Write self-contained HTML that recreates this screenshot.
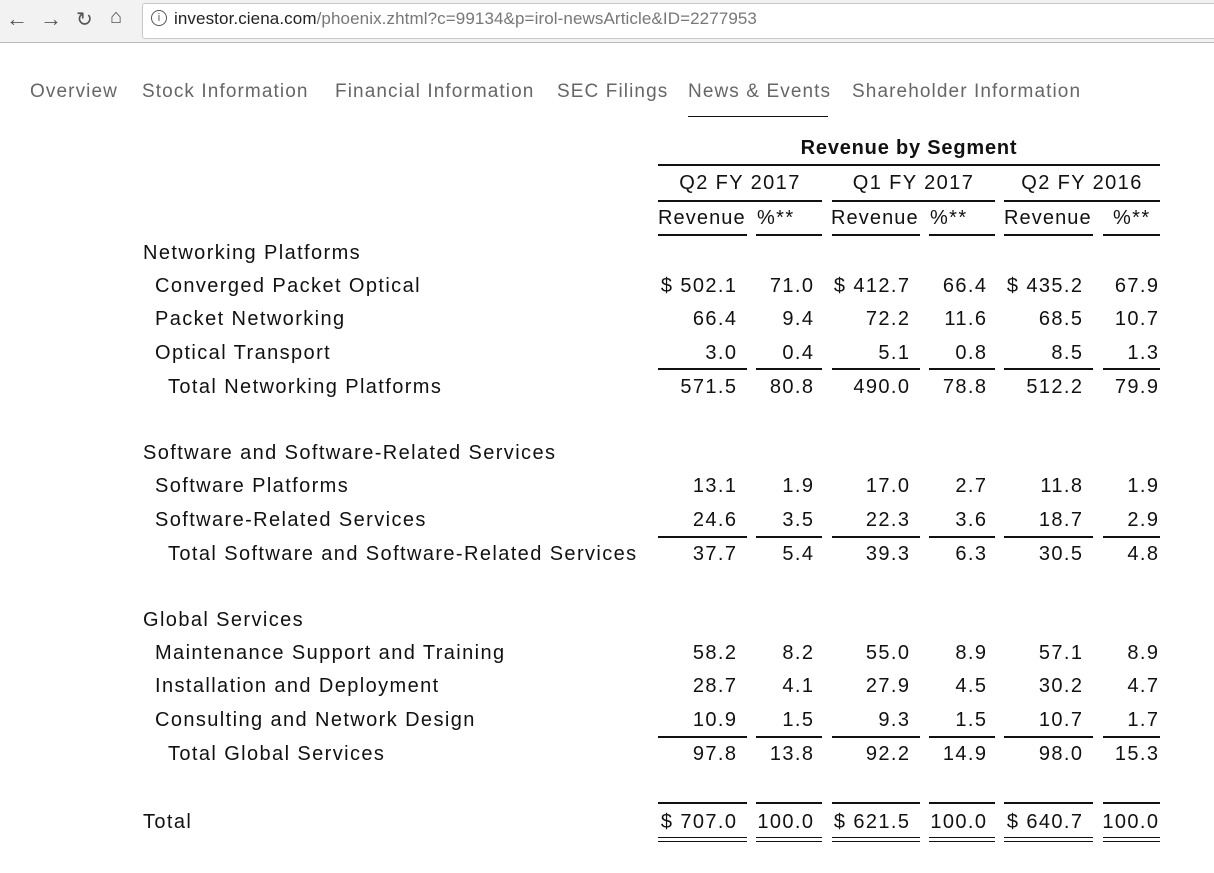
<!DOCTYPE html>
<html><head><meta charset="utf-8">
<style>
body{margin:0;width:1214px;height:873px;background:#fff;position:relative;overflow:hidden;font-family:"Liberation Sans",sans-serif;}
.a{position:absolute;white-space:nowrap;}
.t{font-size:20px;color:#111;line-height:24px;letter-spacing:1.4px;}
.r{text-align:right;}
.l{position:absolute;height:2px;background:#111;}
.nav{font-size:19px;color:#666;top:81px;letter-spacing:1.1px;}
</style></head><body>
<div class="a" style="left:0;top:0;width:1214px;height:42px;background:#f2f2f2;"></div>
<div class="a" style="left:0;top:42px;width:1214px;height:1px;background:#bbb;"></div>
<div class="a" style="left:142px;top:3px;width:1080px;height:34px;background:#fff;border:1px solid #c8c8c8;border-radius:3px;"></div>
<div class="a" style="left:6px;top:6px;font-size:22px;color:#555;">&#8592;</div>
<div class="a" style="left:40px;top:6px;font-size:22px;color:#555;">&#8594;</div>
<div class="a" style="left:76px;top:7px;font-size:20px;color:#555;">&#8635;</div>
<div class="a" style="left:110px;top:6px;font-size:20px;color:#555;">&#8962;</div>
<div class="a" style="left:151px;top:10px;width:14px;height:14px;border:1.5px solid #555;border-radius:50%;font-size:11px;line-height:14px;text-align:center;color:#555;">i</div>
<div class="a" style="left:174px;top:9px;font-size:17px;color:#222;letter-spacing:0.1px;">investor.ciena.com<span style="color:#777">/phoenix.zhtml?c=99134&amp;p=irol-newsArticle&amp;ID=2277953</span></div>

<div class="a nav" style="left:30px;">Overview</div>
<div class="a nav" style="left:142px;">Stock Information</div>
<div class="a nav" style="left:335px;">Financial Information</div>
<div class="a nav" style="left:557px;">SEC Filings</div>
<div class="a nav" style="left:688px;">News &amp; Events</div>
<div class="a nav" style="left:852px;">Shareholder Information</div>
<div class="l" style="left:688px;top:116px;width:140px;height:1px;"></div>

<div class="a t" style="left:658px;width:502px;top:136px;text-align:center;font-weight:bold;letter-spacing:0.8px;">Revenue by Segment</div>
<div class="l" style="left:658px;top:164px;width:502px;"></div>
<div class="a t r" style="left:658px;width:164px;top:171px;text-align:center;">Q2 FY 2017</div>
<div class="a t r" style="left:832px;width:163px;top:171px;text-align:center;">Q1 FY 2017</div>
<div class="a t r" style="left:1004px;width:156px;top:171px;text-align:center;">Q2 FY 2016</div>
<div class="l" style="left:658px;top:200px;width:164px;"></div>
<div class="l" style="left:832px;top:200px;width:163px;"></div>
<div class="l" style="left:1004px;top:200px;width:156px;"></div>
<div class="a t" style="left:658px;top:206px;letter-spacing:1.1px;">Revenue</div>
<div class="a t" style="left:757px;top:206px;">%**</div>
<div class="a t" style="left:831px;top:206px;letter-spacing:1.1px;">Revenue</div>
<div class="a t" style="left:930px;top:206px;">%**</div>
<div class="a t" style="left:1004px;top:206px;letter-spacing:1.1px;">Revenue</div>
<div class="a t" style="left:1113px;top:206px;">%**</div>
<div class="l" style="left:658px;top:234px;width:89px;"></div>
<div class="l" style="left:756px;top:234px;width:66px;"></div>
<div class="l" style="left:832px;top:234px;width:88px;"></div>
<div class="l" style="left:929px;top:234px;width:66px;"></div>
<div class="l" style="left:1004px;top:234px;width:89px;"></div>
<div class="l" style="left:1103px;top:234px;width:57px;"></div>

<div id="rows"></div>
<script>
var rows=[
[241,143,"Networking Platforms"],
[274,155,"Converged Packet Optical","$ 502.1","71.0","$ 412.7","66.4","$ 435.2","67.9"],
[307,155,"Packet Networking","66.4","9.4","72.2","11.6","68.5","10.7"],
[341,155,"Optical Transport","3.0","0.4","5.1","0.8","8.5","1.3"],
[375,168,"Total Networking Platforms","571.5","80.8","490.0","78.8","512.2","79.9"],
[441,143,"Software and Software-Related Services"],
[474,155,"Software Platforms","13.1","1.9","17.0","2.7","11.8","1.9"],
[508,155,"Software-Related Services","24.6","3.5","22.3","3.6","18.7","2.9"],
[542,168,"Total Software and Software-Related Services","37.7","5.4","39.3","6.3","30.5","4.8"],
[608,143,"Global Services"],
[641,155,"Maintenance Support and Training","58.2","8.2","55.0","8.9","57.1","8.9"],
[674,155,"Installation and Deployment","28.7","4.1","27.9","4.5","30.2","4.7"],
[708,155,"Consulting and Network Design","10.9","1.5","9.3","1.5","10.7","1.7"],
[742,168,"Total Global Services","97.8","13.8","92.2","14.9","98.0","15.3"],
[810,143,"Total","$ 707.0","100.0","$ 621.5","100.0","$ 640.7","100.0"]
];
var rights=[738,815,911,988,1084,1160];
var h="";
rows.forEach(function(r){
 h+='<div class="a t" style="left:'+r[1]+'px;top:'+r[0]+'px;">'+r[2]+'</div>';
 for(var i=0;i<6;i++){ if(r[3+i]===undefined) continue; var v=r[3+i];
  h+='<div class="a t r" style="left:'+(rights[i]-150-0.6)+'px;width:150px;top:'+r[0]+'px;">'+v+'</div>';}
});
var segs=[[658,89],[756,66],[832,88],[929,66],[1004,89],[1103,57]];
[368,536,736,802].forEach(function(y){segs.forEach(function(s){h+='<div class="l" style="left:'+s[0]+'px;top:'+y+'px;width:'+s[1]+'px;"></div>';});});
[837,841].forEach(function(y){segs.forEach(function(s){h+='<div class="l" style="left:'+s[0]+'px;top:'+y+'px;width:'+s[1]+'px;height:1px;"></div>';});});
document.getElementById("rows").innerHTML=h;
</script>
</body></html>
